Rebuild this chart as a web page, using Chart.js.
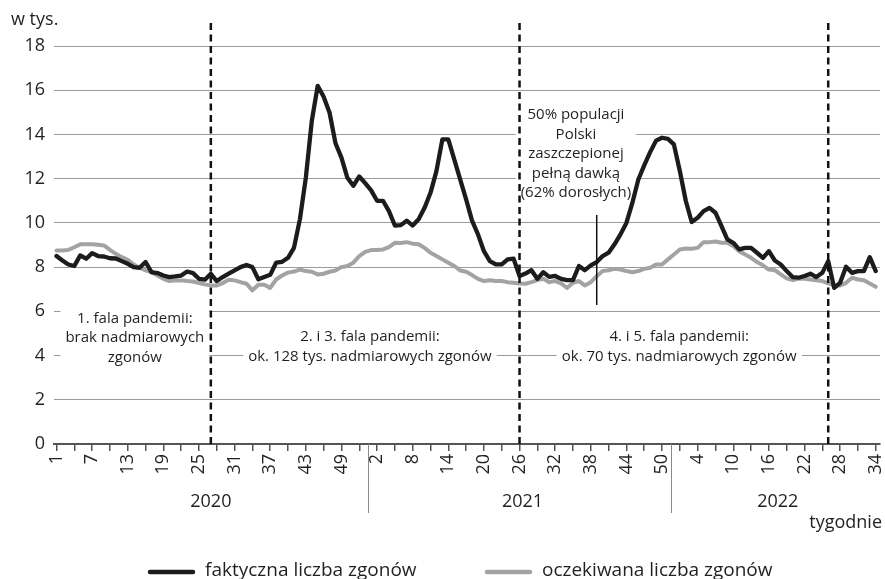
<!DOCTYPE html>
<html>
<head>
<meta charset="utf-8">
<script src="https://cdn.jsdelivr.net/npm/chart.js@4.4.1/dist/chart.umd.min.js"></script>
<style>
  html, body { margin: 0; padding: 0; background: #fff; }
</style>
</head>
<body>
<canvas id="chart" width="885" height="579"></canvas>
<script>
// weeks of each year shown on the axis
const years = ['2020', '2021', '2022'];
const weeksPerYear = [53, 52, 34];

const weekLabels = [];
weeksPerYear.forEach(n => { for (let w = 1; w <= n; w++) weekLabels.push(String(w)); });

// deaths per week, thousands
const actual = [
  8.5, 8.3, 8.12, 8.05, 8.53, 8.38, 8.63, 8.5, 8.48, 8.4, 8.39, 8.27, 8.15, 8.0, 7.97, 8.23, 7.77, 7.73,
  7.62, 7.55, 7.58, 7.62, 7.8, 7.73, 7.47, 7.43, 7.7, 7.37, 7.55, 7.7, 7.85, 8.0, 8.1, 8.0, 7.45, 7.55,
  7.65, 8.2, 8.24, 8.42, 8.87, 10.16, 12.04, 14.6, 16.2, 15.7, 14.98, 13.6, 12.95, 12.04, 11.68, 12.1, 11.8,
  11.47, 11.0, 11.0, 10.53, 9.88, 9.9, 10.1, 9.88, 10.16, 10.68, 11.36, 12.34, 13.78, 13.78, 12.87, 11.97, 11.06, 10.1,
  9.48, 8.72, 8.27, 8.12, 8.12, 8.35, 8.38, 7.6, 7.71, 7.86, 7.47, 7.77, 7.56, 7.6, 7.47, 7.41, 7.41, 8.05,
  7.86, 8.08, 8.23, 8.5, 8.65, 9.03, 9.48, 10.0, 10.9, 11.95, 12.6, 13.2, 13.72, 13.85, 13.8, 13.55, 12.35, 11.0,
  10.04, 10.23, 10.53, 10.68, 10.46, 9.86, 9.25, 9.1, 8.8, 8.87, 8.87, 8.65, 8.42, 8.72, 8.3, 8.12, 7.82, 7.55,
  7.52, 7.6, 7.7, 7.55, 7.74, 8.27, 7.06, 7.29, 8.02, 7.74, 7.82, 7.82, 8.45, 7.82
];
const expected = [
  8.75, 8.75, 8.78, 8.9, 9.03, 9.03, 9.03, 9.01, 8.98, 8.78, 8.6, 8.45, 8.33, 8.12, 7.97, 7.85, 7.77, 7.62,
  7.47, 7.37, 7.4, 7.4, 7.37, 7.35, 7.28, 7.22, 7.17, 7.17, 7.28, 7.43, 7.4, 7.32, 7.25, 6.95, 7.2, 7.2,
  7.06, 7.44, 7.62, 7.75, 7.8, 7.89, 7.82, 7.79, 7.67, 7.7, 7.79, 7.85, 8.0, 8.05, 8.2, 8.5, 8.69,
  8.77, 8.77, 8.8, 8.9, 9.1, 9.09, 9.13, 9.06, 9.03, 8.87, 8.65, 8.5, 8.35, 8.2, 8.05, 7.85, 7.79, 7.64,
  7.47, 7.37, 7.41, 7.37, 7.37, 7.32, 7.29, 7.26, 7.25, 7.32, 7.41, 7.47, 7.32, 7.37, 7.26, 7.06, 7.29, 7.37,
  7.17, 7.32, 7.59, 7.82, 7.86, 7.92, 7.89, 7.82, 7.77, 7.82, 7.92, 7.97, 8.12, 8.12, 8.35, 8.57, 8.8, 8.84,
  8.83, 8.87, 9.13, 9.13, 9.16, 9.1, 9.1, 8.95, 8.72, 8.57, 8.42, 8.23, 8.08, 7.89, 7.86, 7.67, 7.49, 7.41,
  7.47, 7.47, 7.44, 7.41, 7.37, 7.26, 7.17, 7.17, 7.29, 7.52, 7.44, 7.41, 7.26, 7.11
];

const seriesNames = ['faktyczna liczba zgonów', 'oczekiwana liczba zgonów'];

// events on the time axis (index into weekLabels)
const waveBreaks = [26, 78, 130];
const vaccinationWeek = 91;
const yearBreaks = [52.5, 103.5];

const notes = [
  { x: 13.2, y: 4.79, lines: ['1. fala pandemii:', 'brak nadmiarowych', 'zgonów'] },
  { x: 52.8, y: 4.41, lines: ['2. i 3. fala pandemii:', 'ok. 128 tys. nadmiarowych zgonów'] },
  { x: 104.9, y: 4.41, lines: ['4. i 5. fala pandemii:', 'ok. 70 tys. nadmiarowych zgonów'] },
  { x: 87.5, y: 13.12, lines: ['50% populacji', 'Polski', 'zaszczepionej', 'pełną dawką', '(62% dorosłych)'] }
];

const FONT = "'Open Sans', sans-serif";
const TEXT = '#231f20';

const decorations = {
  id: 'decorations',
  beforeDatasetsDraw(chart) {
    const { ctx, scales: { x, y } } = chart;
    ctx.save();
    ctx.font = '15px ' + FONT;
    ctx.textAlign = 'center';
    ctx.textBaseline = 'middle';
    const lh = 19.5;
    notes.forEach(n => {
      const cx = x.getPixelForValue(n.x);
      const cy = y.getPixelForValue(n.y);
      const w = Math.max(...n.lines.map(l => ctx.measureText(l).width)) + 10;
      const h = n.lines.length * lh + 6;
      ctx.fillStyle = '#fff';
      ctx.fillRect(cx - w / 2, cy - h / 2, w, h);
      ctx.fillStyle = TEXT;
      n.lines.forEach((l, k) => {
        ctx.fillText(l, cx, cy + (k - (n.lines.length - 1) / 2) * lh);
      });
    });
    ctx.restore();
  },
  afterDatasetsDraw(chart) {
    const { ctx, chartArea, scales: { x, y } } = chart;
    ctx.save();
    // dashed wave boundaries
    ctx.strokeStyle = '#111';
    ctx.lineWidth = 2.5;
    ctx.setLineDash([7, 4.5]);
    waveBreaks.forEach(i => {
      const px = x.getPixelForValue(i);
      ctx.beginPath();
      ctx.moveTo(px, chartArea.top - 23);
      ctx.lineTo(px, chartArea.bottom);
      ctx.stroke();
    });
    ctx.setLineDash([]);
    // vaccination marker
    ctx.lineWidth = 1.5;
    const vx = x.getPixelForValue(vaccinationWeek);
    ctx.beginPath();
    ctx.moveTo(vx, y.getPixelForValue(10.36));
    ctx.lineTo(vx, y.getPixelForValue(6.29));
    ctx.stroke();
    ctx.restore();
  },
  afterDraw(chart) {
    const { ctx, chartArea, scales: { x } } = chart;
    ctx.save();
    ctx.fillStyle = TEXT;
    ctx.font = '18px ' + FONT;
    ctx.textBaseline = 'middle';
    ctx.textAlign = 'left';
    ctx.fillText('w tys.', 11, 20);

    // year labels
    ctx.textAlign = 'center';
    let start = 0;
    weeksPerYear.forEach((n, k) => {
      const a = x.getPixelForValue(start);
      const b = x.getPixelForValue(start + n - 1);
      ctx.fillText(years[k], (a + b) / 2, 502);
      start += n;
    });
    // separators between years
    ctx.strokeStyle = '#8a8a8a';
    ctx.lineWidth = 1;
    yearBreaks.forEach(v => {
      const sx = Math.round(x.getPixelForValue(v)) + 0.5;
      ctx.beginPath();
      ctx.moveTo(sx, chartArea.bottom);
      ctx.lineTo(sx, 513);
      ctx.stroke();
    });
    ctx.textAlign = 'right';
    ctx.fillText('tygodnie', 882, 523);

    // legend
    const ly = 572;
    const items = [
      { x0: 150, ds: chart.data.datasets[0] },
      { x0: 487, ds: chart.data.datasets[1] }
    ];
    ctx.font = '19px ' + FONT;
    ctx.textAlign = 'left';
    items.forEach(it => {
      ctx.strokeStyle = it.ds.borderColor;
      ctx.lineWidth = 4.5;
      ctx.lineCap = 'round';
      ctx.beginPath();
      ctx.moveTo(it.x0, ly);
      ctx.lineTo(it.x0 + 43, ly);
      ctx.stroke();
      ctx.fillText(it.ds.label, it.x0 + 55, ly - 1);
    });
    ctx.restore();
  }
};

const toPoints = arr => arr.map((v, i) => ({ x: i, y: v }));

new Chart(document.getElementById('chart'), {
  type: 'line',
  data: {
    datasets: [
      {
        label: seriesNames[0],
        data: toPoints(actual),
        borderColor: '#1c1c1c',
        borderWidth: 4.3,
        pointRadius: 0,
        tension: 0,
        borderJoinStyle: 'round',
        borderCapStyle: 'round'
      },
      {
        label: seriesNames[1],
        data: toPoints(expected),
        borderColor: '#a3a3a3',
        borderWidth: 4,
        pointRadius: 0,
        tension: 0,
        borderJoinStyle: 'round',
        borderCapStyle: 'round'
      }
    ]
  },
  options: {
    responsive: false,
    animation: false,
    devicePixelRatio: 1,
    layout: { padding: { top: 46, right: 5, left: 0, bottom: 0 } },
    plugins: {
      legend: { display: false },
      tooltip: { enabled: false }
    },
    scales: {
      x: {
        type: 'linear',
        min: -0.42,
        max: 138.72,
        afterFit(scale) {
          scale.height = 135;
          scale.paddingLeft = 0;
          scale.paddingRight = 0;
        },
        afterBuildTicks(scale) {
          scale.ticks = weekLabels.map((_, i) => i).filter(i => i % 3 === 0).map(v => ({ value: v }));
        },
        ticks: {
          autoSkip: false,
          minRotation: 90,
          maxRotation: 90,
          padding: 3,
          color: TEXT,
          font: { family: FONT, size: 18 },
          callback: v => (v % 6 === 0 ? weekLabels[v] : '')
        },
        grid: {
          drawOnChartArea: false,
          drawTicks: true,
          tickLength: 7,
          color: '#555',
          lineWidth: 1.5
        },
        border: { display: true, color: '#555', width: 2 }
      },
      y: {
        min: 0,
        max: 18,
        afterFit(scale) { scale.width = 54; },
        ticks: {
          stepSize: 2,
          padding: 9,
          color: TEXT,
          font: { family: FONT, size: 18 }
        },
        grid: {
          drawTicks: false,
          color: c => (c.tick && c.tick.value === 0 ? 'rgba(0,0,0,0)' : '#9b9b9b'),
          lineWidth: 1
        },
        border: { display: false }
      }
    }
  },
  plugins: [decorations]
});
</script>
</body>
</html>
